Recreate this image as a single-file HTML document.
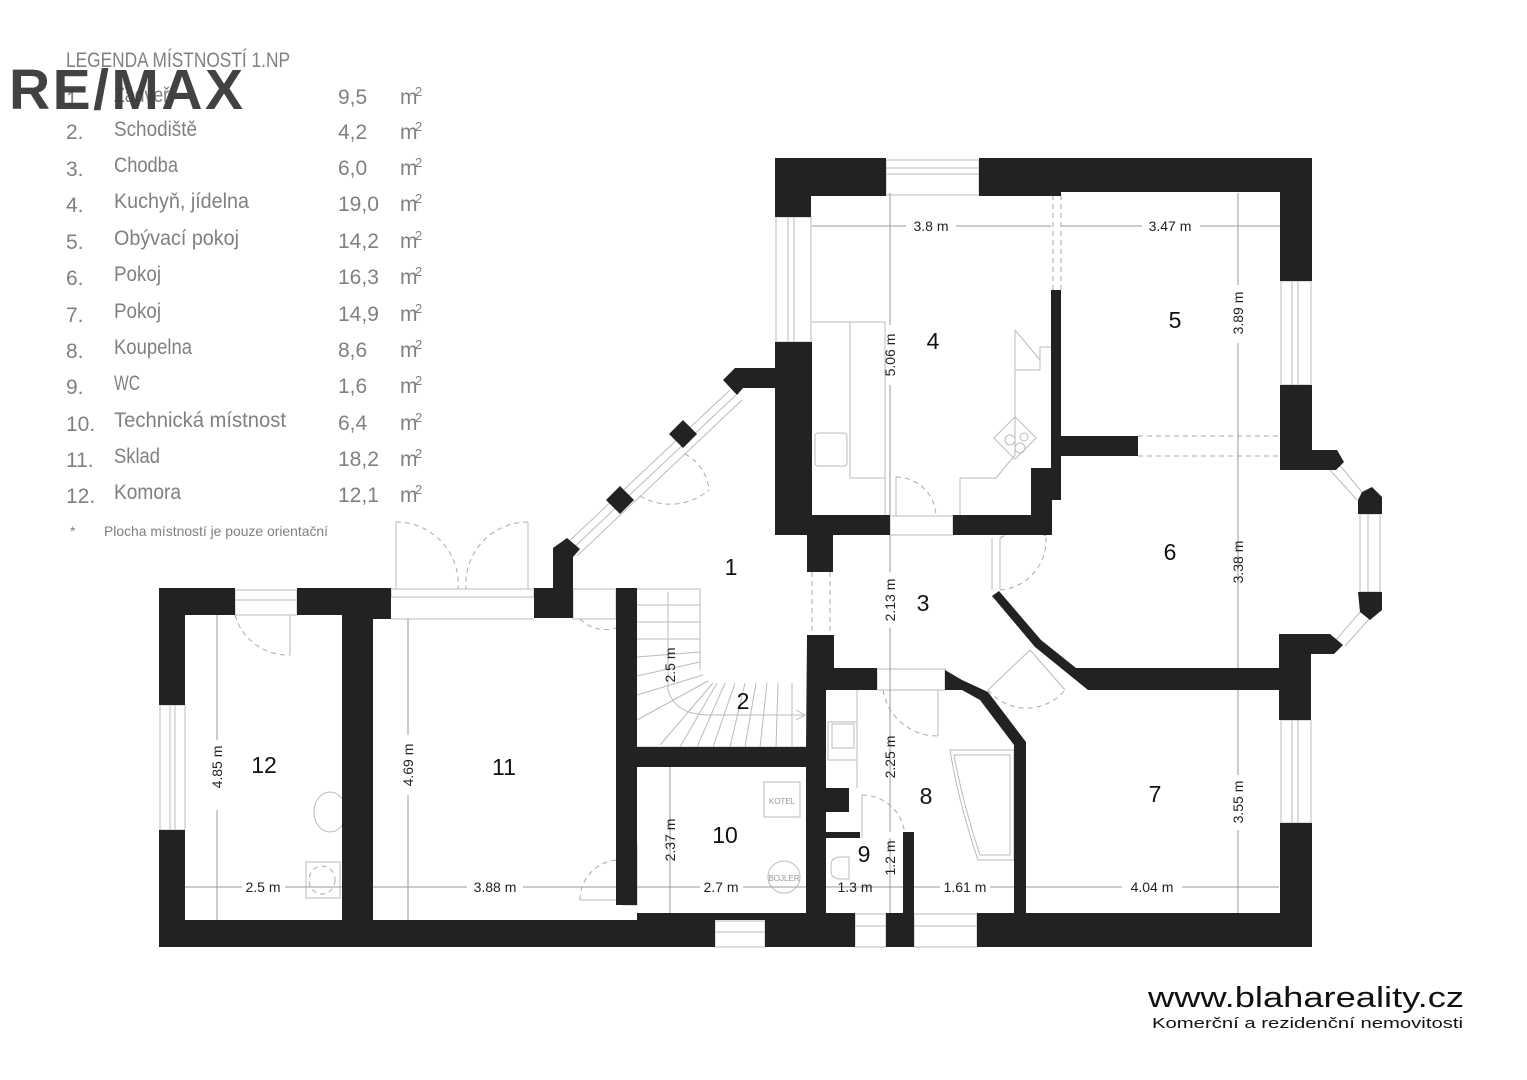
<!DOCTYPE html>
<html><head><meta charset="utf-8"><style>
html,body{margin:0;padding:0;background:#fff;}
svg{display:block;}
.w{fill:#222;}
.t{fill:none;stroke:#bbb;stroke-width:1;}
.d{fill:none;stroke:#aaa;stroke-width:1;stroke-dasharray:5,4;}
.dim{fill:none;stroke:#999;stroke-width:1;}
.lg{font-family:"Liberation Sans",sans-serif;font-size:21px;fill:#808080;font-weight:normal;}
.dl{font-family:"Liberation Sans",sans-serif;font-size:14px;fill:#222;}
.rn{font-family:"Liberation Sans",sans-serif;font-size:23px;fill:#111;}
</style></head><body>
<svg width="1527" height="1080" viewBox="0 0 1527 1080" xmlns="http://www.w3.org/2000/svg">
<rect width="1527" height="1080" fill="#fff"/>

<!-- Legend -->
<g class="lg">
<text x="66" y="67" textLength="224" lengthAdjust="spacingAndGlyphs">LEGENDA MÍSTNOSTÍ 1.NP</text>
<g>
<text x="66" y="106">1.</text><text x="114" y="102" textLength="60" lengthAdjust="spacingAndGlyphs">Zádveří</text><text x="338" y="104">9,5</text><text x="400" y="104">m</text><text x="415" y="96" font-size="13">2</text>
<text x="66" y="139">2.</text><text x="114" y="136" textLength="83" lengthAdjust="spacingAndGlyphs">Schodiště</text><text x="338" y="139">4,2</text><text x="400" y="139">m</text><text x="415" y="131" font-size="13">2</text>
<text x="66" y="176">3.</text><text x="114" y="172" textLength="64" lengthAdjust="spacingAndGlyphs">Chodba</text><text x="338" y="175">6,0</text><text x="400" y="175">m</text><text x="415" y="167" font-size="13">2</text>
<text x="66" y="212">4.</text><text x="114" y="208" textLength="135" lengthAdjust="spacingAndGlyphs">Kuchyň, jídelna</text><text x="338" y="211">19,0</text><text x="400" y="211">m</text><text x="415" y="203" font-size="13">2</text>
<text x="66" y="249">5.</text><text x="114" y="245" textLength="125" lengthAdjust="spacingAndGlyphs">Obývací pokoj</text><text x="338" y="248">14,2</text><text x="400" y="248">m</text><text x="415" y="240" font-size="13">2</text>
<text x="66" y="285">6.</text><text x="114" y="281" textLength="47" lengthAdjust="spacingAndGlyphs">Pokoj</text><text x="338" y="284">16,3</text><text x="400" y="284">m</text><text x="415" y="276" font-size="13">2</text>
<text x="66" y="322">7.</text><text x="114" y="318" textLength="47" lengthAdjust="spacingAndGlyphs">Pokoj</text><text x="338" y="321">14,9</text><text x="400" y="321">m</text><text x="415" y="313" font-size="13">2</text>
<text x="66" y="358">8.</text><text x="114" y="354" textLength="78" lengthAdjust="spacingAndGlyphs">Koupelna</text><text x="338" y="357">8,6</text><text x="400" y="357">m</text><text x="415" y="349" font-size="13">2</text>
<text x="66" y="394">9.</text><text x="114" y="390" textLength="26" lengthAdjust="spacingAndGlyphs">WC</text><text x="338" y="393">1,6</text><text x="400" y="393">m</text><text x="415" y="385" font-size="13">2</text>
<text x="66" y="431">10.</text><text x="114" y="427" textLength="172" lengthAdjust="spacingAndGlyphs">Technická místnost</text><text x="338" y="430">6,4</text><text x="400" y="430">m</text><text x="415" y="422" font-size="13">2</text>
<text x="66" y="467">11.</text><text x="114" y="463" textLength="46" lengthAdjust="spacingAndGlyphs">Sklad</text><text x="338" y="466">18,2</text><text x="400" y="466">m</text><text x="415" y="458" font-size="13">2</text>
<text x="66" y="503">12.</text><text x="114" y="499" textLength="67" lengthAdjust="spacingAndGlyphs">Komora</text><text x="338" y="502">12,1</text><text x="400" y="502">m</text><text x="415" y="494" font-size="13">2</text>
<text x="70" y="536" font-size="14">*</text><text x="104" y="536" font-size="14" textLength="224" lengthAdjust="spacingAndGlyphs">Plocha místností je pouze orientační</text>
</g>
</g>
<text x="9" y="109" font-family="Liberation Sans,sans-serif" font-weight="bold" font-size="57" fill="#383838" fill-opacity="0.95" textLength="234" lengthAdjust="spacing">RE/MAX</text>

<g class="t">
<rect x="886" y="160" width="93" height="35"/><line x1="886" y1="168" x2="979" y2="168"/><line x1="886" y1="174" x2="979" y2="174"/>
<rect x="776" y="217" width="35" height="125"/><line x1="788" y1="217" x2="788" y2="342"/><line x1="794" y1="217" x2="794" y2="342"/>
<rect x="1281" y="281" width="30" height="104"/><line x1="1292" y1="281" x2="1292" y2="385"/><line x1="1298" y1="281" x2="1298" y2="385"/>
<rect x="1360" y="514" width="20" height="78"/><line x1="1368" y1="514" x2="1368" y2="592"/>
<rect x="1281" y="720" width="30" height="103"/><line x1="1292" y1="720" x2="1292" y2="823"/><line x1="1298" y1="720" x2="1298" y2="823"/>
<rect x="160" y="705" width="25" height="125"/><line x1="170" y1="705" x2="170" y2="830"/><line x1="175" y1="705" x2="175" y2="830"/>
<rect x="715" y="921" width="50" height="26"/><line x1="715" y1="932" x2="765" y2="932"/>
<rect x="855" y="914" width="31" height="33"/><line x1="855" y1="926" x2="886" y2="926"/>
<rect x="914" y="914" width="63" height="33"/><line x1="914" y1="926" x2="977" y2="926"/>
<rect x="235" y="590" width="62" height="25"/><line x1="235" y1="600" x2="297" y2="600"/>
<line x1="1337" y1="462" x2="1362" y2="492"/><line x1="1330" y1="470" x2="1357" y2="500"/>
<line x1="1360" y1="612" x2="1336" y2="640"/><line x1="1370" y1="618" x2="1345" y2="646"/>
<line x1="730" y1="390" x2="565" y2="545"/><line x1="742" y1="400" x2="577" y2="556"/><line x1="736" y1="395" x2="571" y2="550"/>
<rect x="391" y="589" width="143" height="8"/>
<line x1="396" y1="522" x2="396" y2="589"/><line x1="528" y1="522" x2="528" y2="589"/>
<line x1="391" y1="619" x2="534" y2="619"/>
<rect x="573" y="589" width="43" height="30"/>
<rect x="890" y="516" width="63" height="19"/>
<line x1="896" y1="477" x2="896" y2="516"/>
<line x1="992" y1="538" x2="992" y2="590"/><line x1="1000" y1="538" x2="1000" y2="590"/>
<line x1="290" y1="615" x2="290" y2="655"/>
<rect x="623" y="843" width="14" height="62"/>
<line x1="580" y1="900" x2="616" y2="900"/>
<rect x="877" y="669" width="68" height="21"/>
<line x1="938" y1="690" x2="938" y2="736"/>
<line x1="862" y1="795" x2="862" y2="838"/>
<line x1="1030" y1="650" x2="988" y2="690"/><line x1="1030" y1="650" x2="1065" y2="690"/>
<polyline points="812,322 885,322 885,515"/>
<polyline points="850,322 850,478 885,478"/>
<polyline points="1051,347 1040,347 1040,370 1015,370 1015,330"/>
<polyline points="1015,370 1015,455 996,478 960,478 960,515"/>
<rect x="815" y="433" width="32" height="33" rx="3"/>
<rect x="1000" y="423" width="30" height="30" transform="rotate(45 1015 438)"/>
<circle cx="1010" cy="440" r="5"/><circle cx="1020" cy="448" r="5"/><circle cx="1024" cy="437" r="4"/>
<line x1="1015" y1="330" x2="1040" y2="360"/>
<polyline points="637,589 700,589 700,670 Q700,683 713,683 806,683"/>
<line x1="637" y1="747" x2="806" y2="747"/>
<line x1="637" y1="605" x2="700" y2="605"/><line x1="637" y1="622" x2="700" y2="622"/><line x1="637" y1="639" x2="700" y2="639"/>
<line x1="637" y1="657" x2="700" y2="652"/><line x1="637" y1="676" x2="700" y2="662"/><line x1="637" y1="695" x2="703" y2="675"/>
<line x1="637" y1="720" x2="708" y2="681"/><line x1="660" y1="745" x2="713" y2="683"/><line x1="680" y1="747" x2="717" y2="683"/>
<line x1="697" y1="747" x2="725" y2="683"/><line x1="713" y1="747" x2="735" y2="683"/><line x1="730" y1="747" x2="745" y2="683"/>
<line x1="745" y1="747" x2="756" y2="683"/><line x1="760" y1="747" x2="767" y2="683"/><line x1="776" y1="747" x2="778" y2="683"/>
<line x1="792" y1="747" x2="792" y2="683"/>
<path d="M668,592 L668,690 Q675,715 710,715 L805,715"/>
<polyline points="796,710 805,715 796,720"/>
<rect x="764" y="782" width="36" height="35"/>
<circle cx="784" cy="877" r="16"/>
<ellipse cx="330" cy="812" rx="16" ry="20"/>
<rect x="306" y="862" width="34" height="36"/><ellipse cx="322" cy="880" rx="13" ry="14" class="d"/>
<rect x="828" y="722" width="29" height="38"/><rect x="832" y="724" width="22" height="24"/>
<line x1="857" y1="690" x2="857" y2="788"/>
<path d="M950,750 L1014,750 L1014,860 L978,860 Q958,800 950,750Z"/>
<path d="M954,755 L1010,755 L1010,855 L980,855 Q962,800 954,755Z"/>
<path d="M831,865 q0,-8 10,-8 l8,0 0,22 -8,0 q-10,0 -10,-8z"/>
</g>
<g class="d">
<path d="M685,454 A45,45 0 0 1 709,490"/>
<path d="M640,496 A60,60 0 0 0 709,490"/>
<path d="M396,522 A62,62 0 0 1 458,589"/>
<path d="M528,522 A62,62 0 0 0 466,589"/>
<path d="M580,619 A36,36 0 0 0 616,628"/>
<path d="M896,477 A40,40 0 0 1 936,516"/>
<path d="M1000,538 A45,45 0 0 1 1046,536"/>
<path d="M1000,590 A50,50 0 0 0 1046,538"/>
<path d="M235,615 A55,55 0 0 0 290,655"/>
<path d="M580,900 A40,40 0 0 1 616,860"/>
<path d="M883,690 A55,55 0 0 0 938,736"/>
<path d="M862,795 A43,43 0 0 1 905,838"/>
<path d="M988,690 A50,50 0 0 0 1065,690"/>
<line x1="812" y1="572" x2="812" y2="635"/><line x1="830" y1="572" x2="830" y2="635"/>
<line x1="1053" y1="195" x2="1053" y2="290"/><line x1="1061" y1="195" x2="1061" y2="290"/>
<line x1="1138" y1="436" x2="1280" y2="436"/><line x1="1138" y1="456" x2="1280" y2="456"/>
</g>

<g class="dim">
<line x1="812" y1="226" x2="906" y2="226"/><line x1="956" y1="226" x2="1051" y2="226"/>
<line x1="1061" y1="226" x2="1142" y2="226"/><line x1="1200" y1="226" x2="1280" y2="226"/>
<line x1="890" y1="193" x2="890" y2="325"/><line x1="890" y1="385" x2="890" y2="515"/>
<line x1="1238" y1="193" x2="1238" y2="285"/><line x1="1238" y1="343" x2="1238" y2="668"/>
<line x1="1238" y1="690" x2="1238" y2="775"/><line x1="1238" y1="830" x2="1238" y2="913"/>
<line x1="890" y1="535" x2="890" y2="572"/><line x1="890" y1="628" x2="890" y2="832"/>
<line x1="890" y1="838" x2="890" y2="913"/>
<line x1="1026" y1="887" x2="1122" y2="887"/><line x1="1182" y1="887" x2="1279" y2="887"/>
<line x1="914" y1="887" x2="940" y2="887"/><line x1="990" y1="887" x2="1014" y2="887"/>
<line x1="826" y1="887" x2="903" y2="887"/>
<line x1="637" y1="887" x2="700" y2="887"/><line x1="743" y1="887" x2="806" y2="887"/>
<line x1="670" y1="767" x2="670" y2="913"/>
<line x1="373" y1="887" x2="467" y2="887"/><line x1="523" y1="887" x2="616" y2="887"/>
<line x1="185" y1="887" x2="242" y2="887"/><line x1="285" y1="887" x2="342" y2="887"/>
<line x1="217" y1="615" x2="217" y2="740"/><line x1="217" y1="810" x2="217" y2="920"/>
<line x1="408" y1="619" x2="408" y2="735"/><line x1="408" y1="795" x2="408" y2="920"/>
</g>

<g class="w">
<path d="M775,158 H886 V196 H811 V217 H775Z"/>
<path d="M979,158 H1312 V281 H1280 V192 H1061 V196 H979Z"/>
<path d="M1280,385 H1312 V450 H1337 L1344,462 L1336,470 H1280Z"/>
<path d="M1362,492 L1372,487 L1382,497 V514 H1358 V500Z"/>
<path d="M1358,592 H1382 V610 L1370,620 L1360,612Z"/>
<path d="M1279,634 H1330 L1343,645 L1334,654 H1311 V720 H1279 V690 H1088 L1035,647 L992,596 L999,591 L1041,640 L1076,668 H1279Z"/>
<path d="M1280,823 H1312 V947 H977 V913 H1014 V745 L980,700 L962,690 H945 V670 L962,680 L988,692 L1026,742 V913 H1280Z"/>
<rect x="1051" y="290" width="10" height="210"/>
<path d="M1031,468 H1061 V500 H1052 V535 H953 V515 H1031Z"/>
<rect x="1061" y="436" width="77" height="20"/>
<path d="M775,342 H812 V515 H890 V535 H833 V572 H807 V535 H775 V388 H743 L737,395 L723,380 L735,368 H775Z"/>
<path d="M683,420 L697,434 L683,448 L669,434Z"/>
<path d="M620,486 L634,500 L620,514 L606,500Z"/>
<path d="M567,538 L580,549 L573,557 V618 H534 V588 H553 V548Z"/>
<path fill-rule="evenodd" d="M807,635 H834 V668 H877 V690 H826 V788 H849 V812 H826 V832 H860 V838 H826 V913 H855 V947 H765 V920 H637 V905 H616 V920 H715 V947 H159 V830 H185 V920 H342 V615 H297 V588 H391 V619 H373 V920 H616 V588 H637 V747 H806Z M637,767 V913 H806 V767Z"/>
<path d="M159,588 H235 V615 H185 V705 H159Z"/>
<path d="M903,832 H914 V947 H886 V913 H903Z"/>
</g>

<g class="dl" text-anchor="middle">
<text x="931" y="231">3.8 m</text>
<text x="1170" y="231">3.47 m</text>
<text x="1152" y="892">4.04 m</text>
<text x="965" y="892">1.61 m</text>
<text x="855" y="892">1.3 m</text>
<text x="721" y="892">2.7 m</text>
<text x="495" y="892">3.88 m</text>
<text x="263" y="892">2.5 m</text>
<text transform="translate(895,355) rotate(-90)">5.06 m</text>
<text transform="translate(1243,313) rotate(-90)">3.89 m</text>
<text transform="translate(1243,562) rotate(-90)">3.38 m</text>
<text transform="translate(1243,802) rotate(-90)">3.55 m</text>
<text transform="translate(895,600) rotate(-90)">2.13 m</text>
<text transform="translate(895,757) rotate(-90)">2.25 m</text>
<text transform="translate(895,858) rotate(-90)">1.2 m</text>
<text transform="translate(675,840) rotate(-90)">2.37 m</text>
<text transform="translate(675,665) rotate(-90)">2.5 m</text>
<text transform="translate(222,767) rotate(-90)">4.85 m</text>
<text transform="translate(413,765) rotate(-90)">4.69 m</text>
<text x="782" y="804" font-size="8" fill="#999">KOTEL</text>
<text x="784" y="881" font-size="8" fill="#999">BOJLER</text>
</g>

<g class="rn" text-anchor="middle">
<text x="731" y="575">1</text>
<text x="743" y="709">2</text>
<text x="923" y="611">3</text>
<text x="933" y="349">4</text>
<text x="1175" y="328">5</text>
<text x="1170" y="560">6</text>
<text x="1155" y="802">7</text>
<text x="926" y="804">8</text>
<text x="864" y="862">9</text>
<text x="725" y="843">10</text>
<text x="504" y="775">11</text>
<text x="264" y="773">12</text>
</g>

<text x="1148" y="1007" font-family="Liberation Sans,sans-serif" font-size="29" fill="#111" textLength="316" lengthAdjust="spacingAndGlyphs">www.blahareality.cz</text>
<text x="1152" y="1028" font-family="Liberation Sans,sans-serif" font-size="15" fill="#111" textLength="311" lengthAdjust="spacingAndGlyphs">Komerční a rezidenční nemovitosti</text>
</svg>
</body></html>
